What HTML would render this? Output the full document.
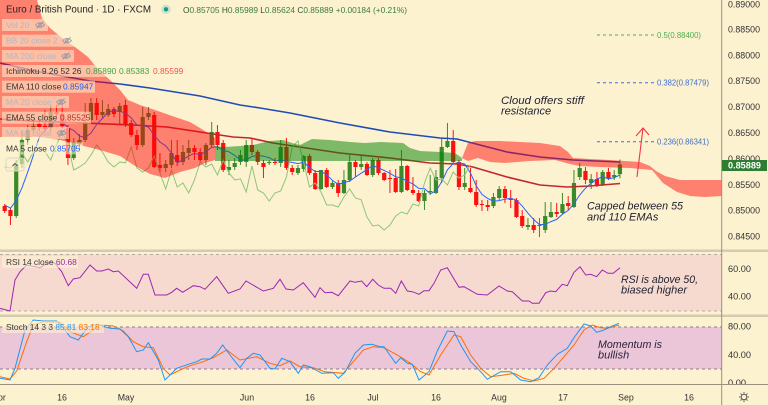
<!DOCTYPE html>
<html><head><meta charset="utf-8">
<style>
html,body{margin:0;padding:0;background:#fdf2d0;}
body{width:768px;height:405px;overflow:hidden;position:relative;font-family:"Liberation Sans",sans-serif;}
svg{position:absolute;left:0;top:0;}
</style></head><body>
<svg id="c" width="768" height="405" viewBox="0 0 768 405" xmlns="http://www.w3.org/2000/svg" font-family="Liberation Sans, sans-serif">
<defs>
 <clipPath id="cm"><rect x="0" y="0" width="722" height="250"/></clipPath>
 <clipPath id="cr"><rect x="0" y="252" width="722" height="63"/></clipPath>
 <clipPath id="cs"><rect x="0" y="317" width="722" height="67"/></clipPath>
</defs>
<rect width="768" height="405" fill="#fdf2d0"/>

<!-- MAIN PANEL -->
<g clip-path="url(#cm)">
 <g id="candles"></g>
 <polyline fill="none" stroke="#1f4bb8" stroke-width="1.6" points="0,63 40,72 90,81 120,84 150,88 200,96 240,105 260,108 290,113 340,123 390,132 440,138 457,139 480,145 507,152 540,157 573,160 620,162"/>
 <polyline fill="none" stroke="#c0282d" stroke-width="1.6" points="0,119 30,121 83,123 133,125 167,127 200,132 233,137 250,138 273,143 340,153 390,158 430,163 457,164 473,167 490,172 507,177 540,185 567,187 590,186 620,183.5"/>
 <polyline id="ma5" fill="none" stroke="#2962ff" stroke-width="1"/>
 <polyline id="lag" fill="none" stroke="#8cc57a" stroke-width="1"/>
 <polygon fill="rgba(255,0,0,0.47)" points="0,0 37,0 42,18 50,28 62,38 75,47 88,57 97,68 110,80 120,90 128,100 140,105 155,110 175,117 190,122 200,128 208,133 215,138 215,160 205,163 195,168 180,172 165,178 150,174 135,166 120,156 100,150 80,145 60,140 40,137 0,137"/>
 <polygon fill="rgba(0,128,0,0.5)" points="215,146 225,147 240,146 253,145 270,141 283,140 292,143 300,145 312,139 330,140 350,142 365,143 380,142 403,143 410,148 420,151 440,152 455,153 462,158 462,161 215,161"/>
 <polygon fill="rgba(255,0,0,0.47)" points="462,158 468,143 475,141 500,141 540,143 560,146 568,152 573,158 590,159 610,160 640,162 650,166 656,171 665,176 680,180 722,180 722,196 705,197 690,196 677,192 663,183 652,170 630,168 600,167 580,166 570,164 555,160 530,161 505,163 490,162 478,158 468,161"/>
 <!-- fib -->
 <g stroke-width="1" stroke-dasharray="3,3">
  <line x1="597" y1="35" x2="655" y2="35" stroke="#4caf50"/>
  <line x1="597" y1="82.7" x2="655" y2="82.7" stroke="#3d6fd1"/>
  <line x1="597" y1="141.7" x2="655" y2="141.7" stroke="#3d6fd1"/>
 </g>
 <g font-size="8" >
  <text x="657" y="38" fill="#4caf50" textLength="44" lengthAdjust="spacingAndGlyphs">0.5(0.88400)</text>
  <text x="657" y="85.7" fill="#3d6fd1" textLength="52" lengthAdjust="spacingAndGlyphs">0.382(0.87479)</text>
  <text x="657" y="144.7" fill="#3d6fd1" textLength="52" lengthAdjust="spacingAndGlyphs">0.236(0.86341)</text>
 </g>
 <!-- arrow -->
 <line x1="637" y1="177" x2="643" y2="128" stroke="#f23645" stroke-width="1.1"/>
 <polyline points="636,136 643,128 649,135" fill="none" stroke="#f23645" stroke-width="1.1"/>
 <!-- annotations -->
 <g font-style="italic" font-size="11" fill="#222233">
  <text x="501" y="104" textLength="83" lengthAdjust="spacingAndGlyphs">Cloud offers stiff</text>
  <text x="501" y="114.5">resistance</text>
  <text x="587" y="209.5" textLength="96" lengthAdjust="spacingAndGlyphs">Capped between 55</text>
  <text x="587" y="220.5">and 110 EMAs</text>
 </g>
</g>

<!-- RSI PANEL -->
<g clip-path="url(#cr)">
 <rect x="0" y="254.5" width="722" height="56.5" fill="#f6dad0"/>
 <line x1="0" y1="254.5" x2="722" y2="254.5" stroke="#b9a6a6" stroke-dasharray="3,3"/>
 <line x1="0" y1="311" x2="722" y2="311" stroke="#b9a6a6" stroke-dasharray="3,3"/>
 <polyline fill="none" stroke="#9c27b0" stroke-width="1" points="0,308.3 10,311 15,280 20,271.7 26.7,265 40,267.7 50,261.7 55,263.3 61.7,271.7 68.3,285.7 73.3,279 80,277.7 90,265 96.7,271 101.7,271 108.3,269 113.3,271.7 118.3,271 136.7,288.3 143.3,274.3 148.3,274.3 155,295 166.7,295 171.7,292.3 176.7,288.3 182.7,292.3 193.3,285.7 200,286.7 205,289.3 216.7,276.7 228.3,293.3 240,289 246,281 263.3,291 273.3,288.3 280,279.3 286,289 293.3,290 303.3,282.7 315,297.3 320,287.7 325,292.7 331.7,292.3 338.3,295.7 350,281 355,282.3 361.7,281 366.7,286.7 372.7,279.3 378.3,285 384,288.3 390.7,288.3 395.7,293.3 401.3,281 407.3,291 412.3,291.7 419,294.3 424,290.7 429,290.7 434,283.3 440.7,270 447.3,267.7 459,287.3 464,286.7 477.3,294.3 487.3,295 499,286 507.3,291 512.3,291.7 522.3,301 529,301 532.3,303.3 539,303.3 545.7,292.7 550.7,291 555.7,291.7 562.3,284.3 567.3,285.7 574,272.3 580,266.7 585.7,275 590.7,274.3 596.7,276.7 602.3,270 608,273.3 613.3,273.3 620,267.7"/>
 <rect x="2" y="256" width="76" height="12" fill="rgba(253,242,208,0.6)"/>
 <text x="6" y="265" font-size="8.4" fill="#3a3a3a">RSI 14 close <tspan fill="#9c27b0">60.68</tspan></text>
 <g font-style="italic" font-size="11" fill="#222233">
  <text x="621" y="283" textLength="77" lengthAdjust="spacingAndGlyphs">RSI is above 50,</text>
  <text x="621" y="293.5">biased higher</text>
 </g>
</g>

<!-- STOCH PANEL -->
<g clip-path="url(#cs)">
 <rect x="0" y="327" width="722" height="42" fill="#eac6d8"/>
 <line x1="0" y1="327" x2="722" y2="327" stroke="#8a7a8a" stroke-dasharray="3,3"/>
 <line x1="0" y1="369" x2="722" y2="369" stroke="#8a7a8a" stroke-dasharray="3,3"/>
 <polyline fill="none" stroke="#ff6d00" stroke-width="1" points="0,376.7 10,379 16.7,371 26.7,341.7 33.3,325 43.3,321.7 60,322.3 70,331.7 83.3,336.7 93.3,330 100,325 113.3,326 123.3,331 133.3,341.7 143.3,346.7 153.3,347.7 163.3,368.3 170,375 180,370 190,365.7 203.3,361.7 213.3,357.7 226.7,350 240,360 256.7,356.7 270,363.3 280,365.7 290,361 300,366.7 313.3,367.7 325,371.7 343.3,373.3 353.3,361.7 363.3,350 373.3,346.7 384,347.7 397.3,355 410.7,363.3 420.7,371.7 429,375 440.7,355 454,335 460.7,336.7 470.7,355 480.7,368.3 490.7,376.7 504,375 514,373.3 524,378.3 534,381 544,378.3 554,368.3 564,356.7 574,345 584,330 592.3,325 600.7,327.7 607.3,328.3 619,325"/>
 <polyline fill="none" stroke="#2196f3" stroke-width="1" points="0,378.3 10,380 15,368.3 25,330 33.3,320 43.3,321 56.7,321 65,330 70,336.7 78.3,340 88.3,326.7 96.7,324.3 110,328.3 120,329 128.3,336.7 136.7,351.7 143.3,350 148.3,342.7 158.3,360 165,380 171.7,373.3 176.7,368.3 188.3,364.3 196.7,361.7 201.7,359 210,359 216.7,353.3 222.7,345 230,355 240,367.7 246.7,358.3 253.3,353.3 260,355 270,368.3 275,369 281.7,358.3 290,361.7 298.3,373.3 303.3,365 310,366.7 321.7,373.3 333.3,372.7 338.3,378.3 345,372.3 355,353.3 363.3,345 371.7,344.3 380,346.7 384,346.7 395.7,363.3 400.7,357.7 407.3,363.3 412.3,364.3 419,380 429,371.7 437.3,351 447.3,331 454,331.7 460.7,345 470.7,361.7 480.7,371.7 487.3,379.3 500.7,371.7 510.7,371.7 520.7,380 530.7,381.7 539,377.7 547.3,365 557.3,354.3 567.3,348.3 574,337.7 584,324 590.7,326 596.7,332.3 604,330 610.7,326.7 619,323.3"/>
 <rect x="2" y="321" width="102" height="12" fill="rgba(253,242,208,0.6)"/>
 <text x="6" y="330" font-size="8.4" fill="#3a3a3a">Stoch 14 3 3 <tspan fill="#2196f3">85.81</tspan> <tspan fill="#ff6d00">83.16</tspan></text>
 <g font-style="italic" font-size="11" fill="#2a1f3a">
  <text x="598" y="348" textLength="64" lengthAdjust="spacingAndGlyphs">Momentum is</text>
  <text x="598" y="358.5">bullish</text>
 </g>
</g>

<!-- separators & axes -->
<rect x="0" y="249.5" width="768" height="2.5" fill="#d5cbb0"/>
<rect x="0" y="314.5" width="768" height="2.5" fill="#d5cbb0"/>
<line x1="0" y1="384.5" x2="768" y2="384.5" stroke="#9a907c" stroke-width="1"/>
<line x1="721.7" y1="0" x2="721.7" y2="405" stroke="#9a907c" stroke-width="1"/>

<!-- price axis -->
<g font-size="8.8" fill="#333">
 <text x="728" y="7.5" textLength="32" lengthAdjust="spacingAndGlyphs">0.89000</text>
 <text x="728" y="32.4" textLength="32" lengthAdjust="spacingAndGlyphs">0.88500</text>
 <text x="728" y="58.3" textLength="32" lengthAdjust="spacingAndGlyphs">0.88000</text>
 <text x="728" y="84.2" textLength="32" lengthAdjust="spacingAndGlyphs">0.87500</text>
 <text x="728" y="110.1" textLength="32" lengthAdjust="spacingAndGlyphs">0.87000</text>
 <text x="728" y="136" textLength="32" lengthAdjust="spacingAndGlyphs">0.86500</text>
 <text x="728" y="161.9" textLength="32" lengthAdjust="spacingAndGlyphs">0.86000</text>
 <text x="728" y="187.8" textLength="32" lengthAdjust="spacingAndGlyphs">0.85500</text>
 <text x="728" y="213.7" textLength="32" lengthAdjust="spacingAndGlyphs">0.85000</text>
 <text x="728" y="239.6" textLength="32" lengthAdjust="spacingAndGlyphs">0.84500</text>
 <text x="728" y="272" textLength="23" lengthAdjust="spacingAndGlyphs">60.00</text>
 <text x="728" y="299.7" textLength="23" lengthAdjust="spacingAndGlyphs">40.00</text>
 <text x="728" y="329.7" textLength="23" lengthAdjust="spacingAndGlyphs">80.00</text>
 <text x="728" y="358" textLength="23" lengthAdjust="spacingAndGlyphs">40.00</text>
</g>
<g clip-path="url(#cs2)">
 <clipPath id="cs2"><rect x="722" y="317" width="46" height="67"/></clipPath>
 <text x="728" y="386" font-size="8.8" fill="#333" textLength="18" lengthAdjust="spacingAndGlyphs">0.00</text>
</g>
<rect x="722" y="160" width="45" height="11" fill="#2e7d32"/>
<text x="728" y="168.7" font-size="8.8" fill="#ffffff" font-weight="bold" textLength="33" lengthAdjust="spacingAndGlyphs">0.85889</text>

<!-- time axis -->
<g font-size="8.8" fill="#333" text-anchor="middle">
 <text x="-1" y="400.5">Apr</text>
 <text x="62" y="400.5">16</text>
 <text x="126" y="400.5">May</text>
 <text x="247" y="400.5">Jun</text>
 <text x="310" y="400.5">16</text>
 <text x="373" y="400.5">Jul</text>
 <text x="436" y="400.5">16</text>
 <text x="499" y="400.5">Aug</text>
 <text x="563" y="400.5">17</text>
 <text x="626" y="400.5">Sep</text>
 <text x="689" y="400.5">16</text>
</g>
<g stroke="#555" stroke-width="1" fill="none">
 <circle cx="744" cy="397" r="2.8"/>
 <line x1="744" y1="392" x2="744" y2="393.5"/><line x1="744" y1="400.5" x2="744" y2="402"/>
 <line x1="739" y1="397" x2="740.5" y2="397"/><line x1="747.5" y1="397" x2="749" y2="397"/>
 <line x1="740.5" y1="393.5" x2="741.5" y2="394.5"/><line x1="746.5" y1="399.5" x2="747.5" y2="400.5"/>
 <line x1="747.5" y1="393.5" x2="746.5" y2="394.5"/><line x1="741.5" y1="399.5" x2="740.5" y2="400.5"/>
</g>

<!-- header -->
<text x="6" y="12.7" font-size="10.5" fill="#222" textLength="145" lengthAdjust="spacingAndGlyphs">Euro / British Pound · 1D · FXCM</text>
<circle cx="166" cy="9.3" r="4.7" fill="#c9e3d2"/>
<circle cx="166" cy="9.3" r="2.2" fill="#1b9e77"/>
<text x="183" y="13" font-size="8.5" fill="#3a7d3a" textLength="224" lengthAdjust="spacingAndGlyphs"><tspan fill="#2f4f2f">O</tspan>0.85705 <tspan fill="#2f4f2f">H</tspan>0.85989 <tspan fill="#2f4f2f">L</tspan>0.85624 <tspan fill="#2f4f2f">C</tspan>0.85889 +0.00184 (+0.21%)</text>

<!-- legend rows -->
<g font-size="8.4">
 <rect x="2" y="19" width="46" height="12" fill="rgba(253,242,208,0.55)"/>
 <text x="6" y="28" fill="#b4b6c4">Vol 20</text>
 <rect x="2" y="34.7" width="73" height="12" fill="rgba(253,242,208,0.55)"/>
 <text x="6" y="43.7" fill="#b4b6c4">BB 20 close 2</text>
 <rect x="2" y="50" width="72" height="12" fill="rgba(253,242,208,0.55)"/>
 <text x="6" y="59" fill="#b4b6c4">MA 200 close</text>
 <rect x="2" y="65" width="180" height="12" fill="rgba(253,242,208,0.55)"/>
 <text x="6" y="74" fill="#333">Ichimoku 9 26 52 26 <tspan x="86" fill="#43a047">0.85890</tspan><tspan x="119" fill="#43a047">0.85383</tspan><tspan x="153" fill="#ef5350">0.85599</tspan></text>
 <rect x="2" y="80.7" width="93" height="12" fill="rgba(253,242,208,0.55)"/>
 <text x="6" y="89.7" fill="#333">EMA 110 close <tspan x="63" fill="#2a5bd7">0.85947</tspan></text>
 <rect x="2" y="96" width="67" height="12" fill="rgba(253,242,208,0.55)"/>
 <text x="6" y="105" fill="#b4b6c4">MA 20 close</text>
 <rect x="2" y="111.7" width="89" height="12" fill="rgba(253,242,208,0.55)"/>
 <text x="6" y="120.7" fill="#333">EMA 55 close <tspan x="60" fill="#c62828">0.85525</tspan></text>
 <rect x="2" y="127" width="67" height="12" fill="rgba(253,242,208,0.55)"/>
 <text x="6" y="136" fill="#b4b6c4">MA 50 close</text>
 <rect x="2" y="142.3" width="81" height="12" fill="rgba(253,242,208,0.55)"/>
 <text x="6" y="151.3" fill="#333">MA 5 close <tspan x="50" fill="#2962ff">0.85705</tspan></text>
</g>
<rect x="6" y="158" width="18" height="13" rx="2" fill="rgba(253,242,208,0.6)" stroke="#ddd6c0"/>
<polyline points="12.5,166 15,163.5 17.5,166" fill="none" stroke="#555" stroke-width="1"/>
<g id="eyes" stroke="#9a9aa6" stroke-width="0.9" fill="none"></g>
</svg>
<script>
(function(){
var NS="http://www.w3.org/2000/svg";
var D=[[206,211,204,213],[210,216,208,225],[216,164,160,218],[164,140,132,168],[140,130,125,145],[130,126,120,133],[124,127,118,131],[126,129,110,132],[128,112,105,131],[112,114,105,118],
[114,126,100,128],[128,158,125,165],[158,142,138,160],[144,140,134,150],[140,122,103,142],[120,103,98,122],[103,115,98,120],[115,112,100,118],[115,109,104,117],[109,114,107,117],
[112,106,103,125],[105,125,100,127],[123,135,120,137],[135,145,130,150],[145,117,107,147],[117,113,107,120],[115,167,112,168],[165,168,153,173],[168,164,160,172],[165,153,140,168],
[155,162,140,166],[162,152,145,165],[153,148,140,160],[148,152,145,160],[152,160,148,163],[160,145,143,165],[145,132,122,147],[132,145,125,150],[143,170,140,172],[170,167,160,175],
[167,163,158,170],[162,155,150,165],[162,145,140,167],[145,152,138,155],[152,162,150,165],[163,167,160,178],[163,162,160,165],[162,162.8,158,165],[163,147,140,167],[147,168,138,170],
[168,172,165,175],[173,168,165,175],[169,156,155,172],[156,173,154,175],[173,189,170,190],[189,170,170,190],[170,187,168,188],[187,183,180,189],[183,193,180,197],[193,180,170,194],
[180,162,155,182],[162,167,160,177],[167,164,155,170],[164,175,162,176],[175,160,158,177],[160,173,158,175],[173,180,172,181],[178,178.8,170,193],[178,192,169,193],[192,166,150,193],
[166,190,165,191],[190,193,177,195],[193,201,190,202],[201,193,190,210],[192,191,175,195],[193,177,170,194],[178,147,138,183],[147,141,123,148],[141,162,130,163],[162,187,160,190],
[187,183,168,190],[188,192,168,193],[192,205,180,207],[204,205,200,211],[205,207,200,211],[206,197,193,208],[198,189,186,200],[189,198,186,203],[199,199.8,190,208],[200,217,198,218],
[216,226,210,228],[227,225,218,230],[225,230,218,233],[226,225,218,237],[230,216,202,233],[217,212,202,218],[212,214,203,217],[213,204,193,214],[203,206,196,210],[207,183,170,208],
[177,168,163,180],[171,180,167,184],[183,179,174,189],[179,185,172,187],[185,172,170,186],[172,178,168,180],[177,175,170,180],[174.1,164.6,159.5,178.3]];
var X0=4.7,DX=5.75;
var g=document.getElementById('candles');
function el(n,a){var e=document.createElementNS(NS,n);for(var k in a)e.setAttribute(k,a[k]);return e;}
var closes=[];
for(var i=0;i<D.length;i++){
 var d=D[i],x=X0+DX*i,o=d[0],c=d[1],h=d[2],l=d[3];
 var up=c<o||(c==o);
 var col=up?'#3a8a2a':'#ff1010';
 g.appendChild(el('line',{x1:x,y1:h,x2:x,y2:l,stroke:col,'stroke-width':1}));
 var top=Math.min(o,c),bh=Math.max(Math.abs(c-o),1);
 g.appendChild(el('rect',{x:x-2.1,y:top,width:4.2,height:bh,fill:col}));
 closes.push(c);
}
var pre=[200,202,204,208];
var all=pre.concat(closes);
var pts=[];
for(var i=0;i<closes.length;i++){
 var s=0;for(var k=0;k<5;k++)s+=all[i+4-k];
 pts.push((X0+DX*i).toFixed(2)+','+(s/5).toFixed(2));
}
document.getElementById('ma5').setAttribute('points',pts.join(' '));
var lp=[];
for(var i=26;i<closes.length;i++){lp.push((X0+DX*(i-26)).toFixed(2)+','+closes[i]);}
document.getElementById('lag').setAttribute('points',lp.join(' '));
var eyes=[[40,25],[67,40.7],[66,56],[61,102],[61.5,133]];
var eg=document.getElementById('eyes');
eyes.forEach(function(p){
 eg.appendChild(el('path',{d:'M'+(p[0]-4.5)+','+p[1]+' Q'+p[0]+','+(p[1]-4.5)+' '+(p[0]+4.5)+','+p[1]+' Q'+p[0]+','+(p[1]+4.5)+' '+(p[0]-4.5)+','+p[1]}));
 eg.appendChild(el('circle',{cx:p[0],cy:p[1],r:1.3}));
 eg.appendChild(el('line',{x1:p[0]-3.5,y1:p[1]+3.5,x2:p[0]+3.5,y2:p[1]-3.5}));
});
})();
</script>
</body></html>
